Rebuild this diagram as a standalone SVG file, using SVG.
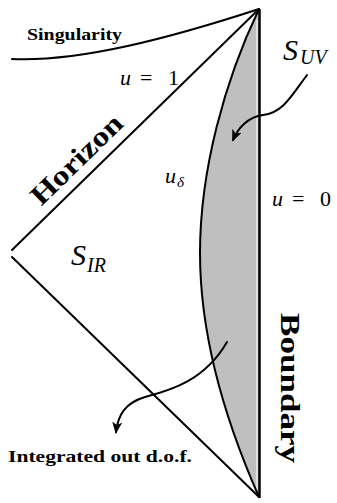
<svg xmlns="http://www.w3.org/2000/svg" width="337" height="503" viewBox="0 0 337 503">
<style>
.ln{fill:none;stroke:#000;stroke-width:2;stroke-linecap:round;stroke-linejoin:round}
.bold{font-weight:bold;fill:#000}
.math{fill:#000}
.it{font-style:italic}
</style>
<defs>
<marker id="ah" viewBox="0 0 12 10" refX="10" refY="5" markerWidth="12" markerHeight="10" markerUnits="userSpaceOnUse" orient="auto">
<path d="M0,0 L12,5 L0,10 L3,5 Z" fill="#000"/>
</marker>
</defs>
<rect width="337" height="503" fill="#fff"/>
<g id="uv-region">
<path d="M259,9 C225,80 200,170 200,253 C200,336 225,420 259,497 Z" fill="#bfbfbf"/>
<line x1="257" y1="20" x2="257" y2="490" stroke="#fff" stroke-width="1"/>
<path class="ln" d="M259,9 C225,80 200,170 200,253 C200,336 225,420 259,497"/>
</g>
<g id="boundary">
<line x1="259.5" y1="9" x2="259.5" y2="498" stroke="#000" stroke-width="2.5"/>
<text class="bold" font-family="'Liberation Serif', 'Times New Roman', serif" font-size="27" textLength="150" lengthAdjust="spacingAndGlyphs" text-anchor="middle" transform="translate(281,388) rotate(90)">Boundary</text>
</g>
<g id="horizon">
<path class="ln" d="M259,9 L12,250"/>
<path class="ln" d="M12,257 L259,497"/>
<text class="bold" font-family="'Liberation Serif', 'Times New Roman', serif" font-size="28" textLength="117" lengthAdjust="spacingAndGlyphs" text-anchor="middle" transform="translate(83,166) rotate(-44.3)">Horizon</text>
</g>
<g id="singularity">
<path class="ln" d="M12,59 C80,62 170,38 259,9" stroke-width="2.5"/>
<text class="bold" font-family="'Liberation Serif', 'Times New Roman', serif" x="27" y="40" font-size="16" textLength="95" lengthAdjust="spacingAndGlyphs">Singularity</text>
</g>
<g id="labels" font-family="'Liberation Serif', 'Times New Roman', serif">
<text class="math" font-size="30"><tspan class="it" x="283" y="60">S</tspan><tspan class="it" font-size="20" x="300" y="64">UV</tspan></text>
<text class="math" font-size="22"><tspan class="it" x="120" y="85">u</tspan><tspan x="140" y="85">=</tspan><tspan x="168" y="85">1</tspan></text>
<text class="math" font-size="22"><tspan class="it" x="165" y="183">u</tspan><tspan class="it" font-size="15" x="177" y="187">δ</tspan></text>
<text class="math" font-size="22"><tspan class="it" x="272" y="206">u</tspan><tspan x="292" y="206">=</tspan><tspan x="320" y="206">0</tspan></text>
<text class="math" font-size="30"><tspan class="it" x="71" y="265">S</tspan><tspan class="it" font-size="20" x="87" y="272">IR</tspan></text>
<text class="bold" x="8" y="462" font-size="16" textLength="184" lengthAdjust="spacingAndGlyphs">Integrated out d.o.f.</text>
</g>
<g id="connectors">
<path class="ln" d="M307,75 C292,95 283,113 263,115 C248,117 238,128 233,140" marker-end="url(#ah)"/>
<path class="ln" d="M227,342 C205,380 172,390 145,397 C125,403 118,415 116,432" marker-end="url(#ah)"/>
</g>
</svg>
